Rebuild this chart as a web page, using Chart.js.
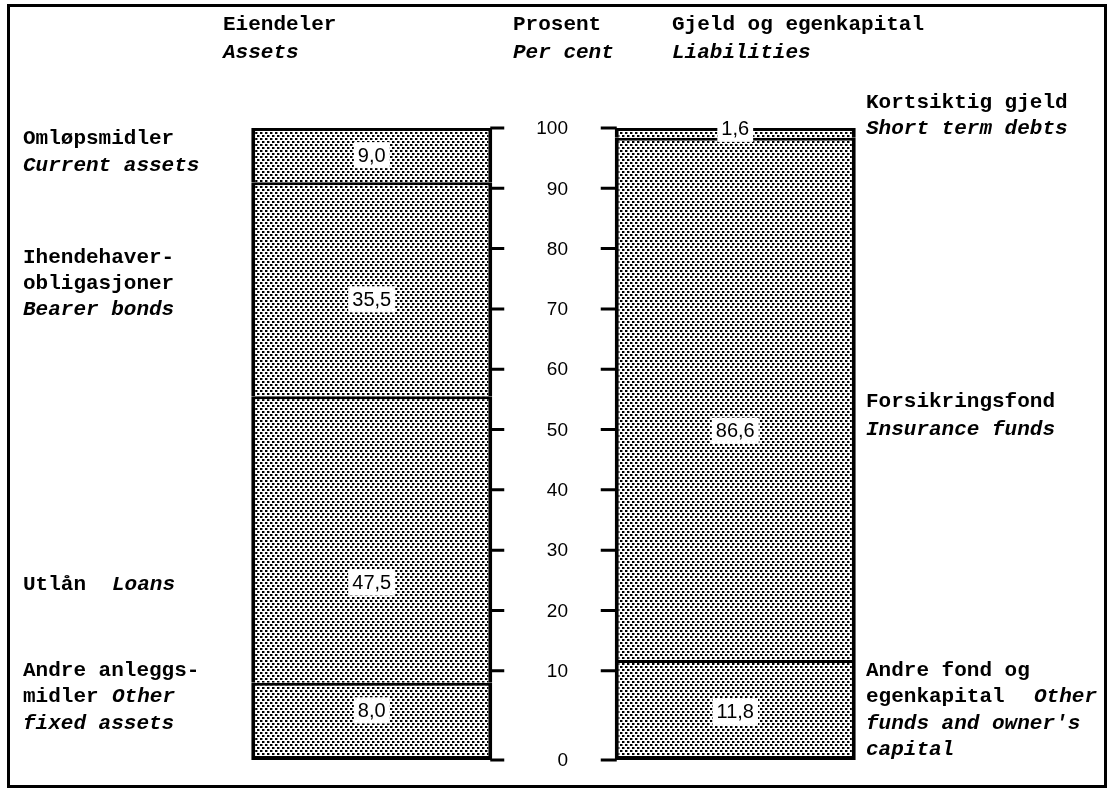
<!DOCTYPE html>
<html>
<head>
<meta charset="utf-8">
<script src="https://cdn.jsdelivr.net/npm/chart.js@4/dist/chart.umd.min.js"></script>
<style>
    body { margin: 0; background: #fff; }
    canvas { display: block; }
</style>
</head>
<body>
<canvas id="balanceChart" width="1107" height="788"></canvas>
<script>
    'use strict';

    // bottom to top, per cent of total
    var categories = ['Assets', 'Liabilities'];
    var assetValues = [8.0, 47.5, 35.5, 9.0];
    var liabilityValues = [11.8, 86.6, 1.6];
    var tickValues = [0, 10, 20, 30, 40, 50, 60, 70, 80, 90, 100];
    var tickLabels = ['0', '10', '20', '30', '40', '50', '60', '70', '80', '90', '100'];

    // the printed chart stretches the band below 10, so its zero line sits lower
    var AXIS_FLOOR = -4.8;

    var MONO = '"Liberation Mono", "Courier New", monospace';
    var SANS = '"Liberation Sans", Arial, sans-serif';

    // pixel nudges for the value labels, [dataset][bar] - the print doesn't centre them
    var labelNudge = [[-11, 2], [43, 32], [10, -4], [0, 0]];

    // side notes: [text, x, y, italic]
    var notes = [
        ['Eiendeler', 223, 25, false],
        ['Assets', 223, 53, true],
        ['Prosent', 513, 25, false],
        ['Per cent', 513, 53, true],
        ['Gjeld og egenkapital', 672, 25, false],
        ['Liabilities', 672, 53, true],
        ['Kortsiktig gjeld', 866, 103, false],
        ['Short term debts', 866, 129, true],
        ['Omløpsmidler', 23, 139, false],
        ['Current assets', 23, 166, true],
        ['Ihendehaver-', 23, 258, false],
        ['obligasjoner', 23, 284, false],
        ['Bearer bonds', 23, 310, true],
        ['Forsikringsfond', 866, 402, false],
        ['Insurance funds', 866, 430, true],
        ['Utlån', 23, 585, false],
        ['Loans', 112, 585, true],
        ['Andre anleggs-', 23, 671, false],
        ['midler', 23, 697, false],
        ['Other', 112, 697, true],
        ['fixed assets', 23, 724, true],
        ['Andre fond og', 866, 671, false],
        ['egenkapital', 866, 697, false],
        ['Other', 1034, 697, true],
        ["funds and owner's", 866, 724, true],
        ['capital', 866, 750, true]
    ];

    function makeStipple() {
        var c = document.createElement('canvas');
        c.width = 10;
        c.height = 6;
        var g = c.getContext('2d');
        g.fillStyle = '#fff';
        g.fillRect(0, 0, 10, 6);
        g.fillStyle = '#000';
        g.fillRect(0, 0, 2, 2);
        g.fillRect(5, 0, 2, 2);
        g.fillRect(2, 3, 2, 2);
        g.fillRect(7, 3, 2, 2);
        // a touch of grey to thicken the dots like the print
        g.fillStyle = 'rgba(0,0,0,0.45)';
        g.fillRect(2, 0, 1, 2);
        g.fillRect(7, 0, 1, 2);
        g.fillRect(4, 3, 1, 2);
        g.fillRect(9, 3, 1, 2);
        return g.createPattern(c, 'repeat');
    }

    function fmt(v) {
        return v.toFixed(1).replace('.', ',');
    }

    var stipple = makeStipple();
    var levels = Math.max(assetValues.length, liabilityValues.length);
    var datasets = [];
    for (var i = 0; i < levels; i++) {
        var ds = {
            data: [
                i < assetValues.length ? assetValues[i] : null,
                i < liabilityValues.length ? liabilityValues[i] : null
            ],
            backgroundColor: stipple,
            borderColor: '#000',
            borderWidth: { top: 3, left: 4, right: 4, bottom: i === 0 ? 4 : 0 },
            borderSkipped: false,
            barPercentage: 0.663,
            categoryPercentage: 1
        };
        if (i === 0) {
            ds.base = AXIS_FLOOR;
        }
        datasets.push(ds);
    }

    var decorPlugin = {
        id: 'decor',
        afterDatasetsDraw: function(chart) {
            var ctx = chart.ctx;
            var y = chart.scales.y;
            var bar0 = chart.getDatasetMeta(0).data[0];
            var bar1 = chart.getDatasetMeta(0).data[1];
            var leftEdge = bar0.x + bar0.width / 2;
            var rightEdge = bar1.x - bar1.width / 2;

            ctx.save();
            // ticks and labels on the middle scale
            ctx.strokeStyle = '#000';
            ctx.lineWidth = 3;
            ctx.fillStyle = '#000';
            ctx.font = '19px ' + SANS;
            ctx.textAlign = 'right';
            ctx.textBaseline = 'middle';
            tickValues.forEach(function(v, k) {
                var py = y.getPixelForValue(v === 0 ? AXIS_FLOOR : v);
                ctx.beginPath();
                ctx.moveTo(leftEdge - 2, py);
                ctx.lineTo(leftEdge + 12, py);
                ctx.moveTo(rightEdge - 14, py);
                ctx.lineTo(rightEdge + 2, py);
                ctx.stroke();
                ctx.fillText(tickLabels[k], 568, py + 1);
            });

            // value labels in white boxes
            ctx.textAlign = 'center';
            ctx.font = '20px ' + SANS;
            chart.data.datasets.forEach(function(ds, di) {
                var meta = chart.getDatasetMeta(di);
                meta.data.forEach(function(el, idx) {
                    var v = ds.data[idx];
                    if (v === null) return;
                    var cy = (el.y + el.base) / 2 + labelNudge[di][idx];
                    var t = fmt(v);
                    var w = ctx.measureText(t).width + 8;
                    ctx.fillStyle = '#fff';
                    ctx.fillRect(el.x - w / 2, cy - 13, w, 26);
                    ctx.fillStyle = '#000';
                    ctx.fillText(t, el.x, cy + 1);
                });
            });

            // side notes
            ctx.textAlign = 'left';
            notes.forEach(function(n) {
                ctx.font = (n[3] ? 'italic ' : '') + 'bold 21px ' + MONO;
                ctx.fillText(n[0], n[1], n[2]);
            });

            // frame
            ctx.lineWidth = 3;
            ctx.strokeRect(8.5, 5.5, 1097, 781);
            ctx.restore();
        }
    };

    new Chart(document.getElementById('balanceChart'), {
        type: 'bar',
        data: {
            labels: categories,
            datasets: datasets
        },
        options: {
            responsive: false,
            devicePixelRatio: 1,
            animation: false,
            layout: { padding: { left: 190, right: 190, top: 128, bottom: 28 } },
            scales: {
                x: { display: false, stacked: true },
                y: { display: false, stacked: true, min: AXIS_FLOOR, max: 100 }
            },
            plugins: {
                legend: { display: false },
                tooltip: { enabled: false }
            }
        },
        plugins: [decorPlugin]
    });
</script>
</body>
</html>
